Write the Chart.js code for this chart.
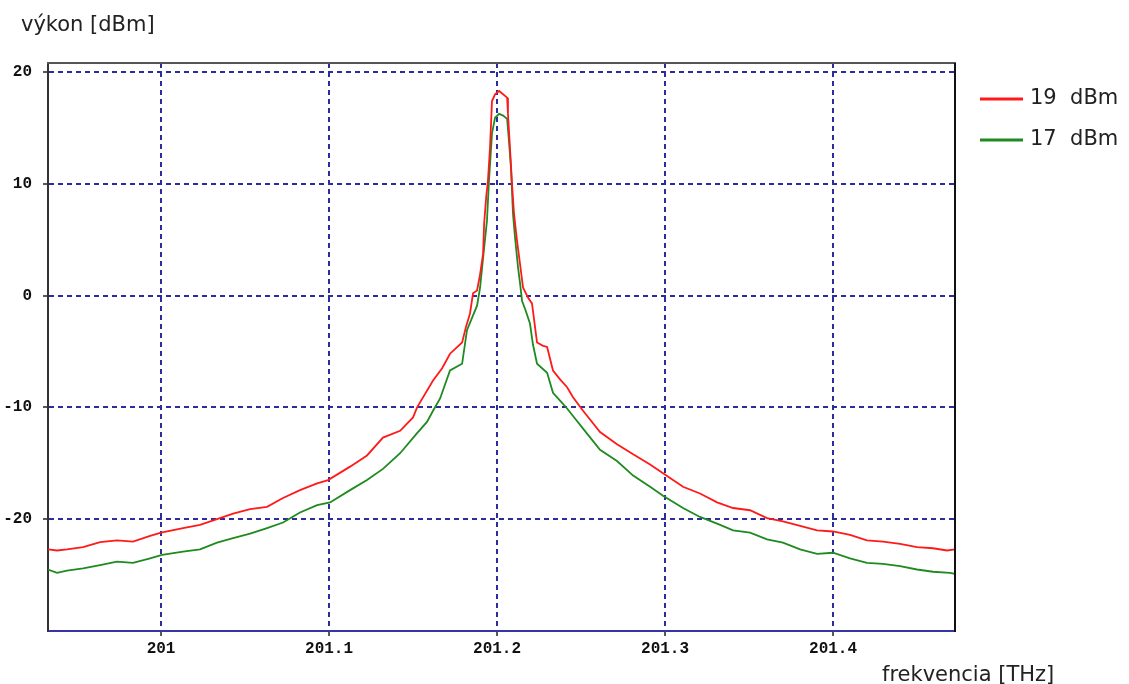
<!DOCTYPE html>
<html>
<head>
<meta charset="utf-8">
<script src="https://cdn.jsdelivr.net/npm/chart.js@4/dist/chart.umd.min.js"></script>
<style>
html,body{margin:0;padding:0;background:#fff;}
#wrap{width:1129px;height:684px;position:relative;}
</style>
</head>
<body>
<div id="wrap"><canvas id="c" width="1129" height="684"></canvas></div>
<script>
// ---- data ----
const seriesLabels = ['19  dBm', '17  dBm'];
const yAxisTitle = 'výkon [dBm]';
const xAxisTitle = 'frekvencia [THz]';

const xTickValues = [201, 201.1, 201.2, 201.3, 201.4];
const xTickLabels = ['201', '201.1', '201.2', '201.3', '201.4'];
const yTickValues = [-20, -10, 0, 10, 20];
const yTickLabels = ['-20', '-10', '0', '10', '20'];

const redFreq = [200.9327,200.9381,200.9440,200.9536,200.9637,200.9738,200.9833,200.9935,201.0000,201.0131,201.0232,201.0333,201.0429,201.0530,201.0631,201.0726,201.0827,201.0929,201.0994,201.1125,201.1226,201.1321,201.1423,201.1500,201.1524,201.1619,201.1673,201.1720,201.1792,201.1815,201.1839,201.1857,201.1881,201.1899,201.1917,201.1923,201.1935,201.1946,201.1958,201.1970,201.1988,201.2012,201.2036,201.2060,201.2065,201.2077,201.2089,201.2101,201.2119,201.2137,201.2155,201.2185,201.2208,201.2238,201.2274,201.2298,201.2333,201.2375,201.2417,201.2452,201.2512,201.2613,201.2714,201.2810,201.2911,201.2988,201.3107,201.3208,201.3310,201.3405,201.3506,201.3607,201.3702,201.3804,201.3905,201.4000,201.4101,201.4202,201.4298,201.4399,201.4500,201.4595,201.4679,201.4726];
const redPower = [-22.7,-22.8,-22.7,-22.5,-22.05,-21.9,-22.0,-21.5,-21.2,-20.8,-20.5,-20.0,-19.5,-19.1,-18.9,-18.1,-17.4,-16.8,-16.5,-15.3,-14.3,-12.7,-12.1,-10.9,-10.0,-7.6,-6.5,-5.2,-4.2,-2.8,-1.6,0.2,0.45,1.9,3.75,6.4,8.75,10.3,13.2,17.4,18.0,18.3,18.0,17.7,16.25,13.2,10.0,7.3,4.9,2.8,0.7,-0.2,-0.7,-4.2,-4.5,-4.6,-6.7,-7.5,-8.2,-9.1,-10.3,-12.2,-13.3,-14.2,-15.1,-15.9,-17.1,-17.7,-18.5,-19.0,-19.2,-19.9,-20.2,-20.6,-21.0,-21.1,-21.4,-21.9,-22.0,-22.2,-22.5,-22.6,-22.8,-22.7];

const greenFreq = [200.9327,200.9381,200.9440,200.9536,200.9637,200.9738,200.9833,200.9935,201.0006,201.0131,201.0232,201.0333,201.0429,201.0530,201.0631,201.0726,201.0827,201.0929,201.1006,201.1125,201.1226,201.1321,201.1423,201.1524,201.1583,201.1619,201.1661,201.1720,201.1792,201.1821,201.1851,201.1881,201.1899,201.1917,201.1940,201.1952,201.1970,201.1988,201.2012,201.2036,201.2060,201.2071,201.2083,201.2095,201.2107,201.2125,201.2137,201.2149,201.2167,201.2196,201.2214,201.2238,201.2298,201.2333,201.2375,201.2417,201.2464,201.2512,201.2613,201.2714,201.2810,201.2911,201.2988,201.3107,201.3208,201.3310,201.3405,201.3506,201.3607,201.3702,201.3804,201.3905,201.4000,201.4101,201.4202,201.4298,201.4399,201.4500,201.4595,201.4696,201.4726];
const greenPower = [-24.5,-24.8,-24.6,-24.4,-24.1,-23.8,-23.9,-23.5,-23.2,-22.9,-22.7,-22.1,-21.7,-21.3,-20.8,-20.3,-19.4,-18.75,-18.5,-17.4,-16.5,-15.5,-14.1,-12.3,-11.3,-10.3,-9.2,-6.7,-6.1,-3.1,-2.0,-0.9,0.7,3.4,6.7,10.3,14.5,15.9,16.25,16.1,15.8,13.8,11.4,7.3,5.2,2.5,1.1,-0.5,-1.2,-2.5,-4.4,-6.1,-6.9,-8.7,-9.4,-10.1,-11.0,-11.9,-13.8,-14.8,-16.1,-17.1,-17.9,-19.0,-19.8,-20.4,-21.0,-21.2,-21.8,-22.1,-22.7,-23.1,-23.0,-23.5,-23.9,-24.0,-24.2,-24.5,-24.7,-24.8,-24.9];

const xMin = 200.9327, xMax = 201.4726;
const yMin = -30, yMax = 20.8;

// ---- chart ----
const toPts = (xs, ys) => xs.map((x, i) => ({x: x, y: ys[i]}));
const colors = ['#ff1a1a', '#1f8a1f'];

const overlay = {
  id: 'overlay',
  afterDraw(chart) {
    const ctx = chart.ctx;
    const a = chart.chartArea;
    ctx.save();
    // top & right frame lines
    ctx.lineWidth = 2;
    ctx.strokeStyle = '#555';
    ctx.beginPath(); ctx.moveTo(a.left - 1, a.top); ctx.lineTo(a.right + 1, a.top); ctx.stroke();
    ctx.strokeStyle = '#111';
    ctx.beginPath(); ctx.moveTo(a.right, a.top); ctx.lineTo(a.right, a.bottom + 1); ctx.stroke();
    // titles
    ctx.fillStyle = '#222';
    ctx.font = '21px "DejaVu Sans"';
    ctx.textAlign = 'left';
    ctx.textBaseline = 'alphabetic';
    ctx.fillText(yAxisTitle, 21, 31);
    ctx.fillText(xAxisTitle, 882, 681);
    // legend
    chart.data.datasets.forEach((ds, i) => {
      const y = 99 + i * 41;
      ctx.strokeStyle = ds.borderColor;
      ctx.lineWidth = 3;
      ctx.beginPath(); ctx.moveTo(980, y); ctx.lineTo(1023, y); ctx.stroke();
      ctx.fillStyle = '#222';
      ctx.fillText(ds.label, 1030, y + 5);
    });
    ctx.restore();
  }
};

new Chart(document.getElementById('c'), {
  type: 'line',
  data: {
    datasets: [
      {label: seriesLabels[0], data: toPts(redFreq, redPower), borderColor: colors[0], borderWidth: 1.8, pointRadius: 0, tension: 0, fill: false},
      {label: seriesLabels[1], data: toPts(greenFreq, greenPower), borderColor: colors[1], borderWidth: 1.8, pointRadius: 0, tension: 0, fill: false}
    ]
  },
  options: {
    responsive: false,
    animation: false,
    layout: {padding: {left: 0, top: 63, right: 174, bottom: 23}},
    plugins: {legend: {display: false}, tooltip: {enabled: false}, title: {display: false}},
    scales: {
      x: {
        type: 'linear', min: xMin, max: xMax,
        afterFit(s) { s.height = 30; },
        afterBuildTicks(s) { s.ticks = xTickValues.map(v => ({value: v})); },
        ticks: {
          autoSkip: false, maxRotation: 0, padding: 3, color: '#111',
          font: {family: '"Liberation Mono"', size: 16, weight: 'bold'},
          callback: (v, i) => xTickLabels[i]
        },
        grid: {color: '#2c2c9c', lineWidth: 2, tickLength: 5, tickColor: '#222', tickWidth: 1.5},
        border: {display: true, color: '#3535a5', width: 2, dash: [5, 4]}
      },
      y: {
        type: 'linear', min: yMin, max: yMax,
        afterFit(s) { s.width = 48; },
        afterBuildTicks(s) { s.ticks = yTickValues.map(v => ({value: v})); },
        ticks: {
          autoSkip: false, padding: 11, color: '#111',
          font: {family: '"Liberation Mono"', size: 16, weight: 'bold'},
          callback: (v, i) => yTickLabels[i]
        },
        grid: {color: '#2c2c9c', lineWidth: 2, tickLength: 5, tickColor: '#222', tickWidth: 1.5},
        border: {display: true, color: '#333', width: 2, dash: [5, 4]}
      }
    }
  },
  plugins: [overlay]
});
</script>
</body>
</html>
